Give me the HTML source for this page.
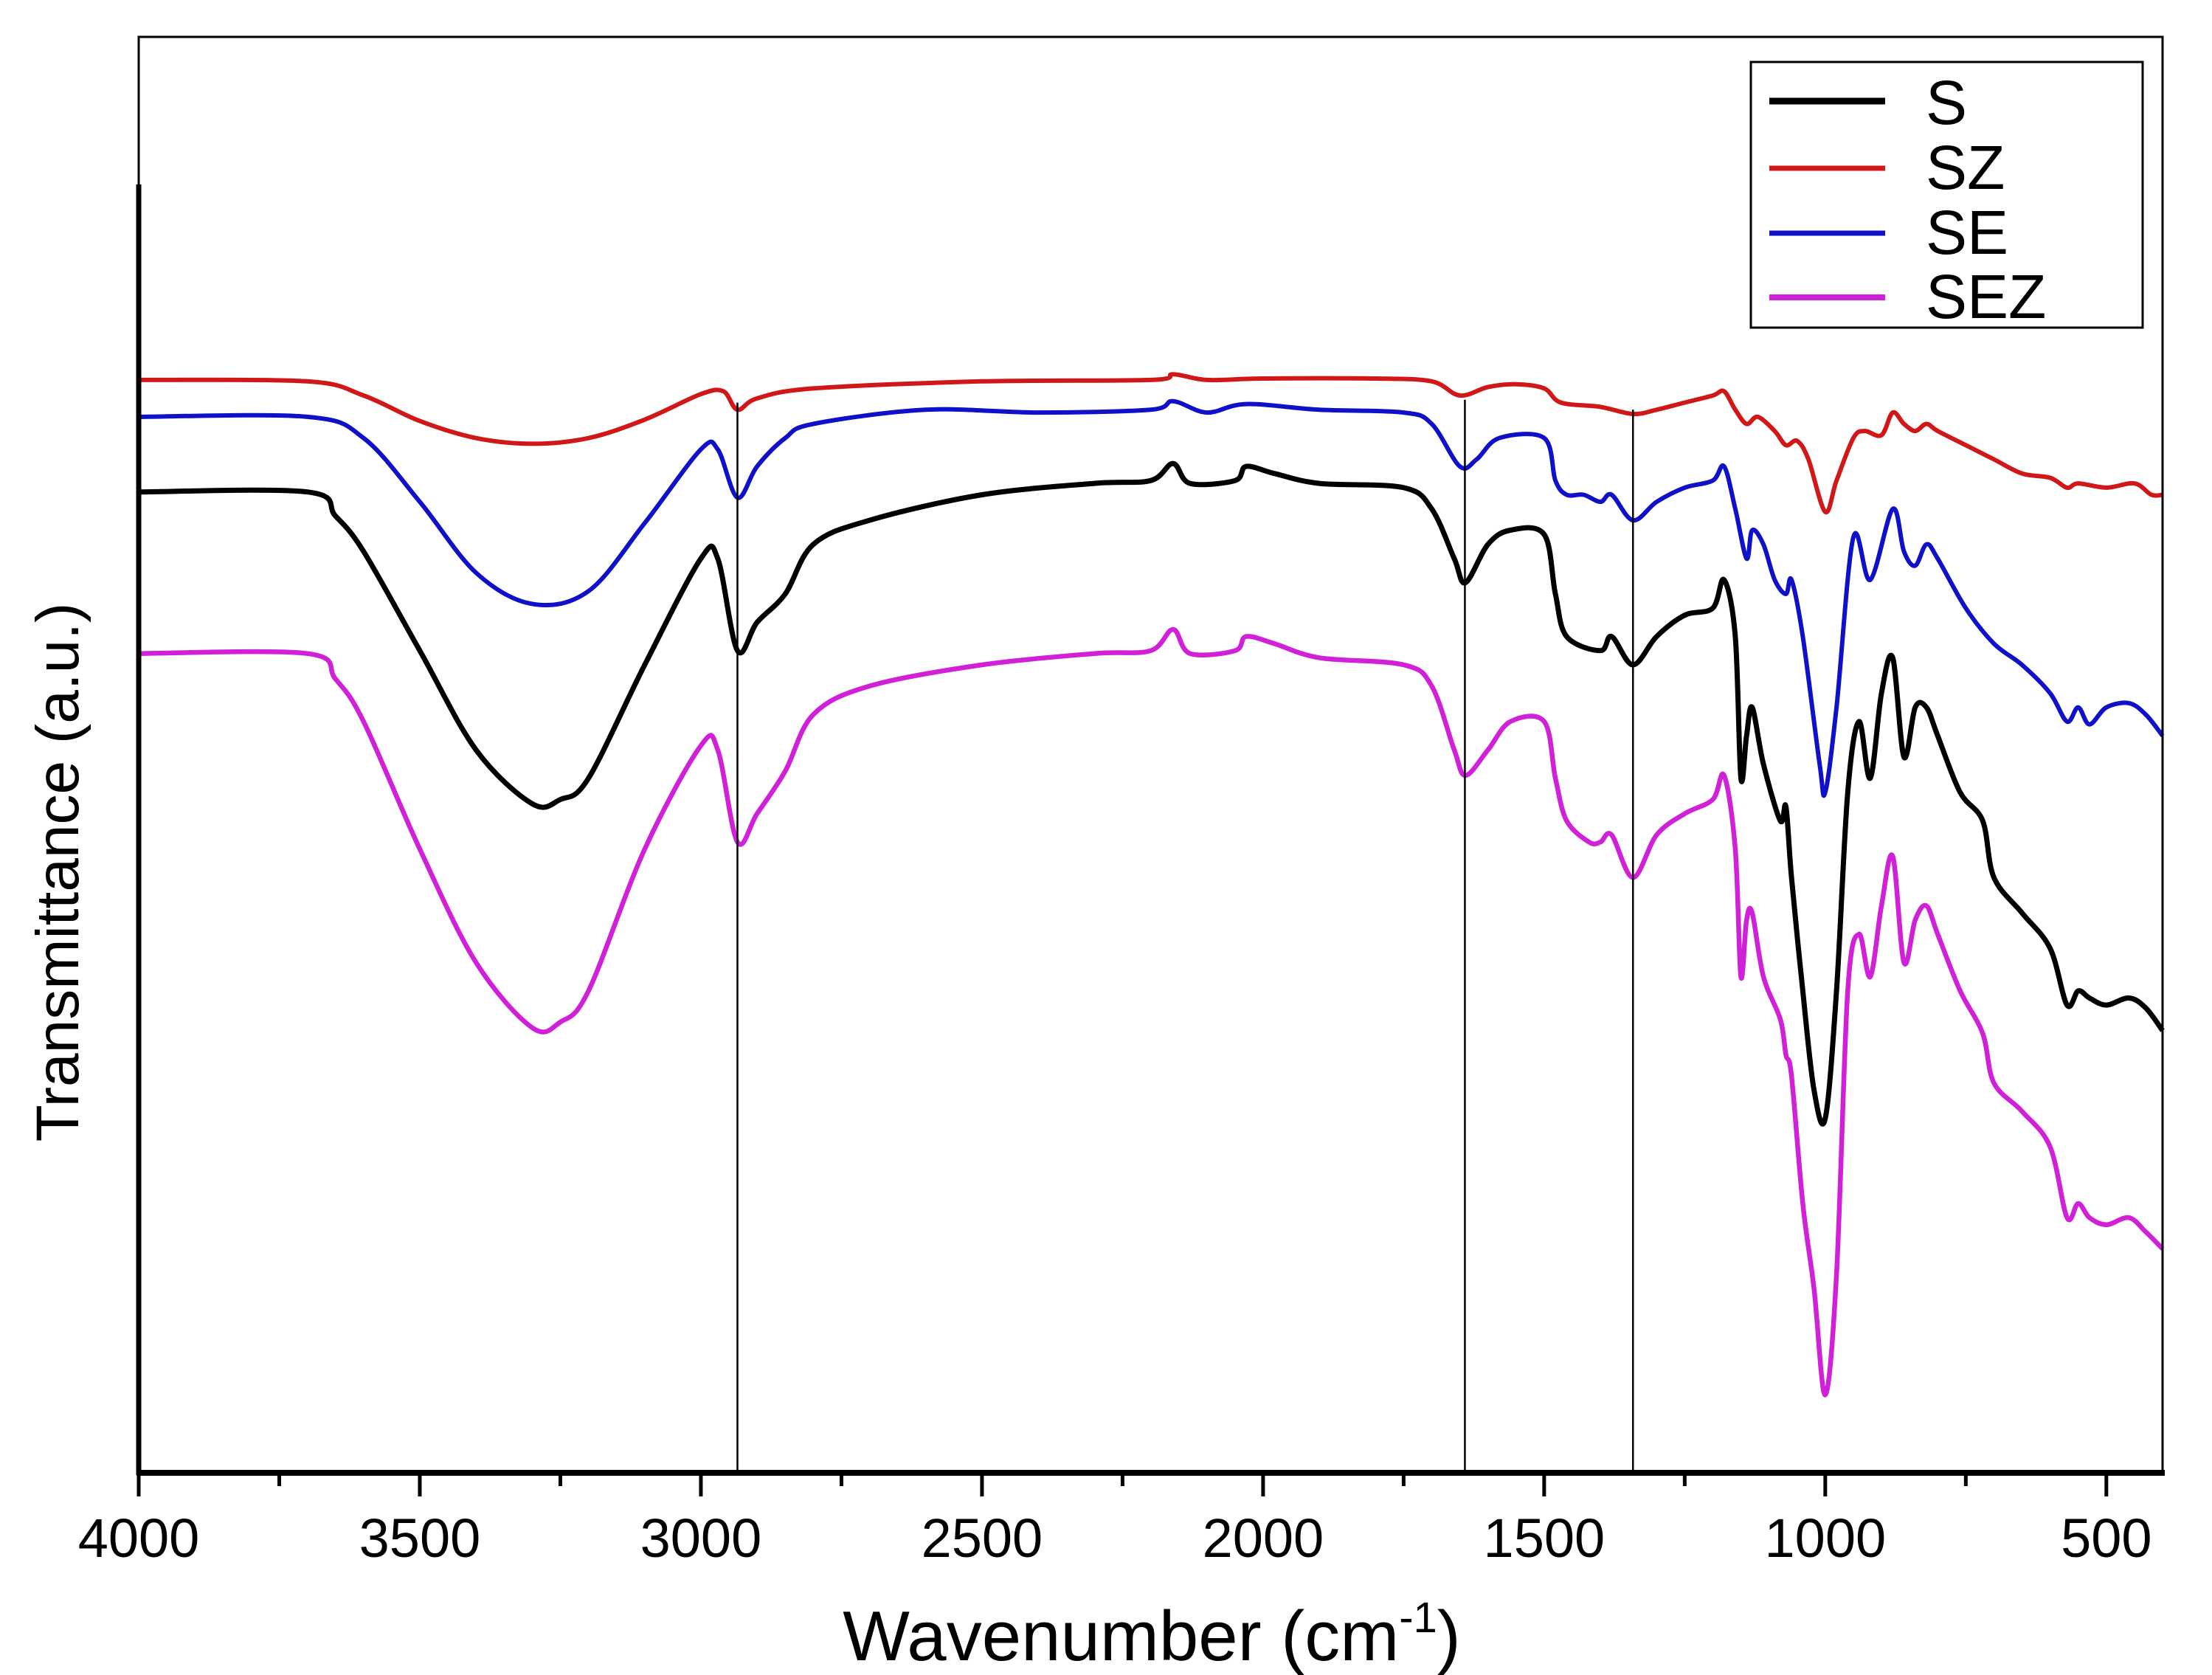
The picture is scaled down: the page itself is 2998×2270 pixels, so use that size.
<!DOCTYPE html>
<html><head><meta charset="utf-8"><style>
html,body{margin:0;padding:0;background:#fff;}
svg{display:block;font-family:"Liberation Sans",Arial,sans-serif;}
</style></head><body>
<svg id="chart" width="2998" height="2270" viewBox="0 0 2998 2270" xmlns="http://www.w3.org/2000/svg">
<rect x="0" y="0" width="2998" height="2270" fill="#fff"/>
<g id="series"></g>
<g id="refs"></g>
<rect x="188" y="50" width="2743" height="1946" fill="none" stroke="#000" stroke-width="3"/>
<line x1="188" y1="250" x2="188" y2="1999" stroke="#000" stroke-width="7"/>
<line x1="185" y1="1996" x2="2934" y2="1996" stroke="#000" stroke-width="8"/>
<g id="ticks"></g>
<text x="1561" y="2250" font-size="96" text-anchor="middle">Wavenumber (cm<tspan font-size="58" dy="-38">-1</tspan><tspan dy="38">)</tspan></text>
<text transform="translate(106,1182) rotate(-90)" font-size="82" text-anchor="middle">Transmittance (a.u.)</text>
<g>
<rect x="2373" y="84" width="531" height="360" fill="#fff" stroke="#000" stroke-width="3"/>
<g><line x1="2398" y1="137" x2="2555" y2="137" stroke="#000" stroke-width="9"/><text x="2610" y="168" font-size="84">S</text></g>
<g><line x1="2398" y1="228" x2="2555" y2="228" stroke="#d01818" stroke-width="7"/><text x="2610" y="256" font-size="84">SZ</text></g>
<g><line x1="2398" y1="316" x2="2555" y2="316" stroke="#1010c8" stroke-width="7"/><text x="2610" y="344" font-size="84">SE</text></g>
<g><line x1="2398" y1="403" x2="2555" y2="403" stroke="#d020d8" stroke-width="8"/><text x="2610" y="431" font-size="84">SEZ</text></g>
</g>
</svg>
<script>
const wavenumbersSZ=[4000,3700,3600,3500,3400,3300,3200,3100,3000,2960,2935,2900,2800,2500,2200,2160,2100,2000,1800,1700,1650,1600,1550,1500,1470,1400,1342,1300,1250,1200,1180,1160,1140,1120,1090,1070,1050,1030,1000,980,950,930,900,880,860,840,820,800,750,700,650,600,570,550,500,450,420,400];
const valuesSZ=[771,770,760,742,730,726,730,743,761,763,750,758,765,770,771,775,771,772,772,770,760,766,768,765,755,752,747,750,755,760,763,750,740,745,735,725,728,715,678,700,730,735,732,748,740,735,740,735,725,715,705,702,695,698,695,698,690,690];
const wavenumbersSE=[4000,3700,3600,3500,3400,3300,3200,3100,3000,2970,2935,2900,2850,2800,2600,2400,2200,2160,2100,2030,1900,1750,1700,1650,1620,1580,1500,1480,1460,1430,1400,1380,1342,1300,1250,1200,1180,1160,1140,1130,1110,1090,1070,1060,1040,1010,1000,980,950,920,880,860,840,820,800,750,700,650,600,570,550,530,500,460,430,400];
const valuesSE=[745,745,730,685,635,613,622,670,722,722,688,710,730,740,750,748,750,756,748,754,750,748,740,710,715,730,730,700,690,690,685,690,672,685,695,700,710,680,645,665,655,630,620,630,590,500,480,540,660,630,680,650,640,655,645,610,585,570,550,530,540,528,540,543,535,520];
const wavenumbersS=[4000,3700,3650,3600,3500,3400,3300,3250,3200,3100,3000,2970,2935,2900,2850,2800,2700,2500,2300,2200,2160,2130,2050,2030,1980,1900,1750,1700,1660,1640,1600,1560,1500,1480,1460,1400,1380,1342,1300,1250,1200,1180,1160,1150,1140,1130,1110,1080,1070,1060,1040,1020,1000,980,960,940,920,900,880,860,840,820,800,760,720,700,650,600,570,550,530,500,460,430,400];
const valuesS=[692,692,675,650,580,510,472,475,490,570,645,645,580,600,620,655,672,690,698,700,712,698,700,710,705,698,695,680,645,628,655,665,662,620,590,580,590,570,590,605,610,630,590,490,520,540,500,460,470,420,340,270,250,340,480,530,490,550,575,505,540,540,520,480,460,420,395,370,330,340,335,330,335,328,312];
const wavenumbersSEZ=[4000,3700,3650,3600,3500,3400,3300,3250,3200,3100,3000,2970,2935,2900,2850,2800,2700,2500,2300,2200,2160,2130,2050,2030,1980,1900,1750,1700,1660,1640,1600,1560,1500,1480,1460,1420,1400,1380,1342,1300,1250,1200,1180,1160,1150,1140,1130,1110,1080,1070,1060,1040,1020,1000,980,960,940,920,900,880,860,840,820,800,760,720,700,650,600,570,550,530,500,460,430,400];
const valuesSEZ=[578,578,560,530,440,360,314,318,340,440,513,510,445,465,495,535,555,570,578,580,595,578,580,590,585,575,570,555,510,492,510,530,530,490,460,445,445,450,420,450,465,475,492,440,350,390,395,350,320,295,280,190,130,55,140,340,380,350,400,435,360,390,400,380,340,310,275,255,230,180,190,180,175,180,170,158];
const refWavenumbers=[2935,1641,1342];
const refTops=[755,757,750];
const majorTicks=[4000,3500,3000,2500,2000,1500,1000,500];
const tickLabels=["4000","3500","3000","2500","2000","1500","1000","500"];
const minorTicks=[3750,3250,2750,2250,1750,1250,750];

const X0=188,X1=2931,W0=4000,W1=400,YB=1996,YK=1.921;
function xs(w){return X0+(W0-w)*(X1-X0)/(W0-W1);}
function ys(v){return YB-v*YK;}
const NS='http://www.w3.org/2000/svg';
function pathFor(ws,vs){
  const p=ws.map((w,i)=>[xs(w),ys(vs[i])]);
  let d='M'+p[0][0].toFixed(1)+','+p[0][1].toFixed(1);
  for(let i=0;i<p.length-1;i++){
    const a=p[Math.max(0,i-1)],b=p[i],c=p[i+1],e=p[Math.min(p.length-1,i+2)];
    const c1=[b[0]+(c[0]-a[0])/6,b[1]+(c[1]-a[1])/6];
    const c2=[c[0]-(e[0]-b[0])/6,c[1]-(e[1]-b[1])/6];
    d+=' C'+c1[0].toFixed(1)+','+c1[1].toFixed(1)+' '+c2[0].toFixed(1)+','+c2[1].toFixed(1)+' '+c[0].toFixed(1)+','+c[1].toFixed(1);
  }
  return d;
}
const sg=document.getElementById('series');
function addSeries(ws,vs,color,width,name){
  const el=document.createElementNS(NS,'path');
  el.setAttribute('d',pathFor(ws,vs));
  el.setAttribute('fill','none');
  el.setAttribute('stroke',color);
  el.setAttribute('stroke-width',width);
  el.setAttribute('stroke-linejoin','round');
  
  
  sg.appendChild(el);
}
addSeries(wavenumbersSZ,valuesSZ,'#d01818',6,'series-sz');
addSeries(wavenumbersSE,valuesSE,'#1010c8',6,'series-se');
addSeries(wavenumbersS,valuesS,'#000',7,'series-s');
addSeries(wavenumbersSEZ,valuesSEZ,'#d020d8',6.5,'series-sez');
const rg=document.getElementById('refs');
refWavenumbers.forEach((w,i)=>{
  const l=document.createElementNS(NS,'line');
  l.setAttribute('x1',xs(w));l.setAttribute('x2',xs(w));
  l.setAttribute('y1',ys(refTops[i]));l.setAttribute('y2',YB);
  l.setAttribute('stroke','#000');l.setAttribute('stroke-width','2.5');
  
  
  rg.appendChild(l);
});
const tg=document.getElementById('ticks');
majorTicks.forEach((w,i)=>{
  const l=document.createElementNS(NS,'line');
  l.setAttribute('x1',xs(w));l.setAttribute('x2',xs(w));
  l.setAttribute('y1',YB);l.setAttribute('y2',YB+32);
  l.setAttribute('stroke','#000');l.setAttribute('stroke-width','5');
  
  
  tg.appendChild(l);
  const t=document.createElementNS(NS,'text');
  t.setAttribute('x',xs(w));t.setAttribute('y',2110);
  t.setAttribute('font-size','74');t.setAttribute('text-anchor','middle');
  t.textContent=tickLabels[i];
  
  
  tg.appendChild(t);
});
minorTicks.forEach(w=>{
  const l=document.createElementNS(NS,'line');
  l.setAttribute('x1',xs(w));l.setAttribute('x2',xs(w));
  l.setAttribute('y1',YB);l.setAttribute('y2',YB+18);
  l.setAttribute('stroke','#000');l.setAttribute('stroke-width','5');
  
  
  tg.appendChild(l);
});
</script>
</body></html>
